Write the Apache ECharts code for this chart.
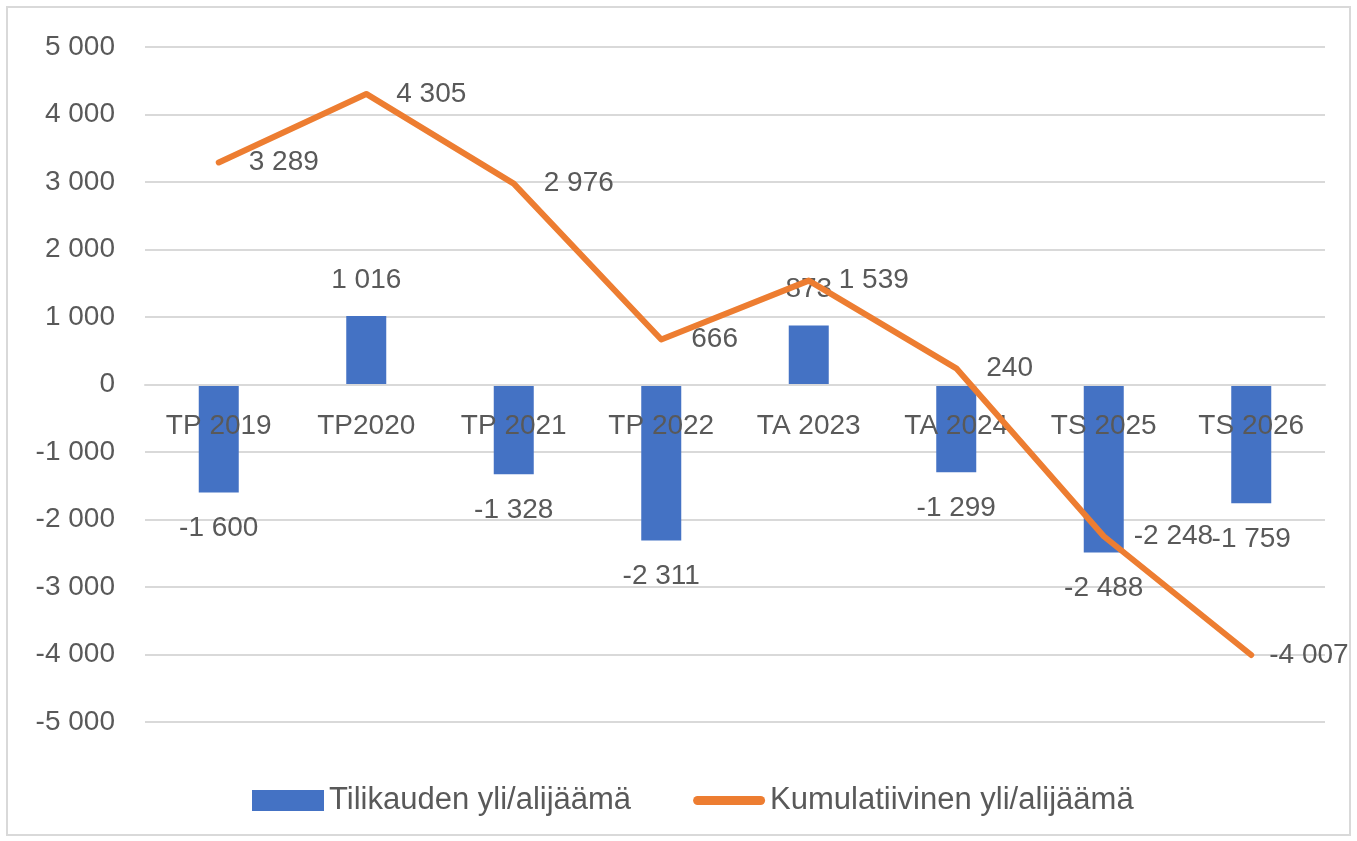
<!DOCTYPE html>
<html>
<head>
<meta charset="utf-8">
<script src="https://cdn.jsdelivr.net/npm/echarts@6/dist/echarts.min.js"></script>
<style>
html, body { margin: 0; padding: 0; background: #fff; }
#main { width: 1357px; height: 841px; }
</style>
</head>
<body>
<div id="main"></div>
<script>
var categories = ['TP 2019', 'TP2020', 'TP 2021', 'TP 2022', 'TA 2023', 'TA 2024', 'TS 2025', 'TS 2026'];
var tilikausi = [-1600, 1016, -1328, -2311, 873, -1299, -2488, -1759];
var kumulatiivinen = [3289, 4305, 2976, 666, 1539, 240, -2248, -4007];

var font = 'Liberation Sans';
var textColor = '#595959';

function fmt(v) {
    var s = String(Math.abs(v));
    s = s.replace(/\B(?=(\d{3})+(?!\d))/g, ' ');
    return (v < 0 ? '-' : '') + s;
}

var chart = echarts.init(document.getElementById('main'));

var barData = [];
for (var i = 0; i < tilikausi.length; i++) {
    barData.push({
        value: tilikausi[i],
        label: { position: tilikausi[i] < 0 ? 'bottom' : 'top' }
    });
}

// last label is pulled in so it stays inside the frame
var lineData = [];
for (var j = 0; j < kumulatiivinen.length; j++) {
    var item = { value: kumulatiivinen[j] };
    if (j === kumulatiivinen.length - 1) item.label = { distance: 18 };
    lineData.push(item);
}

// plot area: top 47, bottom 722 -> zero line at 384.5
var option = {
    animation: false,
    textStyle: { fontFamily: font },
    graphic: [{
        type: 'rect',
        shape: { x: 7, y: 7, width: 1343, height: 828 },
        style: { fill: 'none', stroke: '#d9d9d9', lineWidth: 2 }
    }],
    grid: { left: 145, right: 32, top: 47, bottom: 119 },
    legend: {
        top: 780,
        left: 247,
        itemWidth: 72,
        itemHeight: 21,
        itemGap: 62,
        textStyle: { fontSize: 31, color: textColor, fontFamily: font },
        data: [
            { name: 'Tilikauden yli/alijäämä', icon: 'rect' },
            { name: 'Kumulatiivinen yli/alijäämä', icon: 'path://M5,0 L75,0 A5,5 0 0 1 75,10 L5,10 A5,5 0 0 1 5,0 Z' }
        ]
    },
    xAxis: {
        type: 'category',
        data: categories,
        offset: -337.5,
        z: 2,
        axisLine: { onZero: false, lineStyle: { color: '#d9d9d9', width: 2 } },
        axisTick: { show: false },
        axisLabel: { fontSize: 28, color: textColor, margin: 28, fontFamily: font }
    },
    yAxis: {
        type: 'value',
        min: -5000,
        max: 5000,
        interval: 1000,
        axisLine: { show: false },
        axisTick: { show: false },
        splitLine: { lineStyle: { color: '#d9d9d9', width: 2 } },
        axisLabel: {
            fontSize: 28, color: textColor, margin: 30, fontFamily: font,
            formatter: function (v) { return fmt(v); }
        }
    },
    series: [
        {
            name: 'Tilikauden yli/alijäämä',
            type: 'bar',
            barWidth: 40,
            z: 1,
            itemStyle: { color: '#4472C4' },
            label: {
                show: true,
                fontSize: 28,
                color: textColor,
                distance: 22,
                fontFamily: font,
                formatter: function (p) { return fmt(p.value); }
            },
            data: barData
        },
        {
            name: 'Kumulatiivinen yli/alijäämä',
            type: 'line',
            symbol: 'circle',
            symbolSize: 0,
            showSymbol: true,
            z: 3,
            lineStyle: { color: '#ED7D31', width: 6, cap: 'round', join: 'round' },
            itemStyle: { color: '#ED7D31' },
            label: {
                show: true,
                position: 'right',
                distance: 30,
                fontSize: 28,
                color: textColor,
                fontFamily: font,
                formatter: function (p) { return fmt(p.value); }
            },
            labelLayout: { hideOverlap: false },
            data: lineData
        }
    ]
};

chart.setOption(option);
</script>
</body>
</html>
